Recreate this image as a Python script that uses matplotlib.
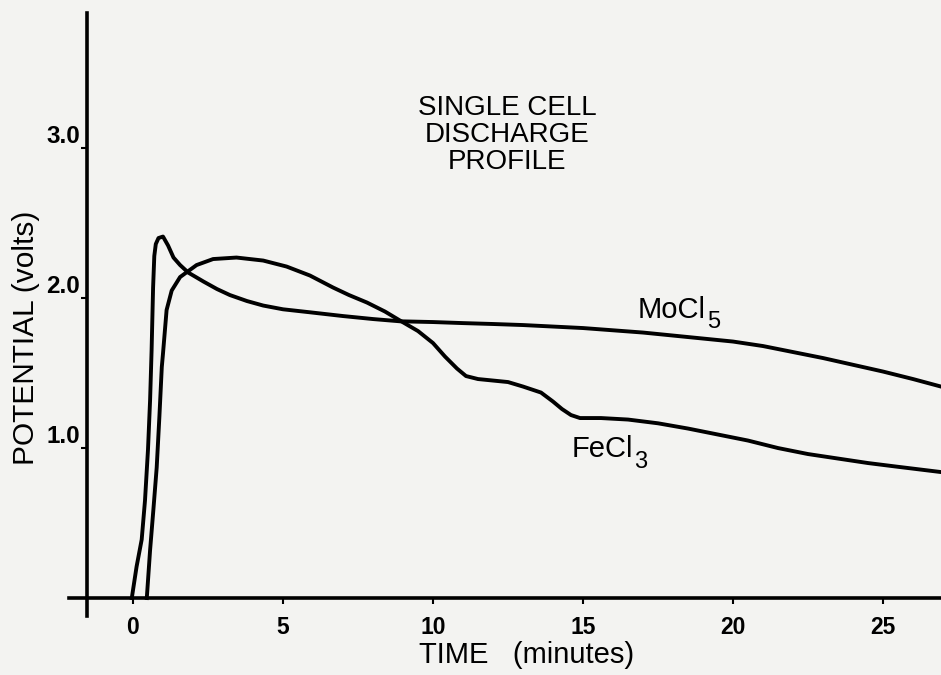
import numpy as np
import matplotlib.pyplot as plt

# values (time in minutes, potential in volts)
mocl5_t = [-0.04, 0.12, 0.29, 0.4, 0.5, 0.57, 0.62, 0.67, 0.71, 0.76, 0.85, 1.0, 1.17, 1.35,
           1.57, 1.84, 2.35, 2.8, 3.23, 3.8, 4.34, 5.0, 5.9, 7.0, 8.0, 8.9, 10.0, 11.0, 12.0,
           13.0, 14.0, 15.0, 16.0, 17.0, 18.0, 19.0, 20.0, 21.0, 22.0, 23.0, 24.0, 25.0,
           26.0, 26.93]
mocl5_v = [0.0, 0.21, 0.39, 0.65, 0.99, 1.32, 1.65, 2.07, 2.28, 2.36, 2.4, 2.41, 2.35, 2.27,
           2.22, 2.17, 2.11, 2.06, 2.02, 1.98, 1.95, 1.925, 1.905, 1.88, 1.86, 1.845, 1.84,
           1.833, 1.827, 1.82, 1.81, 1.8, 1.785, 1.77, 1.75, 1.73, 1.71, 1.68, 1.64, 1.6,
           1.555, 1.51, 1.46, 1.41]

fecl3_t = [0.46, 0.57, 0.68, 0.79, 0.88, 0.96, 1.0, 1.12, 1.29, 1.57, 2.12, 2.67, 3.45,
           4.34, 5.12, 5.9, 6.67, 7.2, 7.8, 8.4, 8.9, 9.5, 10.0, 10.4, 10.8, 11.1, 11.5, 12.0,
           12.5, 13.0, 13.6, 14.0, 14.3, 14.6, 14.9, 15.6, 16.5, 17.5, 18.5, 19.5, 20.5, 21.5,
           22.5, 23.5, 24.5, 25.5, 26.93]
fecl3_v = [0.0, 0.32, 0.59, 0.87, 1.21, 1.54, 1.63, 1.92, 2.05, 2.14, 2.22, 2.26, 2.27,
           2.25, 2.21, 2.15, 2.07, 2.02, 1.97, 1.91, 1.85, 1.78, 1.7, 1.61, 1.53, 1.48, 1.46,
           1.45, 1.44, 1.41, 1.37, 1.31, 1.26, 1.22, 1.2, 1.2, 1.19, 1.165, 1.13, 1.09, 1.05,
           1.0, 0.96, 0.93, 0.9, 0.875, 0.84]

x_ticks = [0, 5, 10, 15, 20, 25]
y_ticks = [1.0, 2.0, 3.0]

bg = '#f3f3f1'
plt.rcParams['font.family'] = ['Liberation Sans', 'DejaVu Sans']

fig = plt.figure(figsize=(9.41, 6.75), dpi=100, facecolor=bg)
ax = fig.add_axes([0, 0, 1, 1])
ax.set_facecolor(bg)
ax.set_xlim(-4.433, 26.933)
ax.set_ylim(-0.513, 3.987)

ax.plot(mocl5_t, mocl5_v, color='black', lw=2.8, solid_joinstyle='round')
ax.plot(fecl3_t, fecl3_v, color='black', lw=2.8, solid_joinstyle='round')

# axes drawn like the hand-made original
for s in ['top', 'right']:
    ax.spines[s].set_visible(False)
ax.spines['left'].set_position(('data', -1.53))
ax.spines['left'].set_bounds(-0.12, 3.9)
ax.spines['bottom'].set_position(('data', 0))
ax.spines['bottom'].set_bounds(-2.13, 26.93)
for s in ['left', 'bottom']:
    ax.spines[s].set_linewidth(2.6)

ax.set_xticks(x_ticks)
ax.set_xticklabels([str(t) for t in x_ticks], fontsize=16.5, fontweight='bold')
ax.set_yticks(y_ticks)
ax.set_yticklabels([f'{v:.1f}' for v in y_ticks], fontsize=17.5, fontweight='bold')
for lab in ax.get_yticklabels():
    lab.set_va('bottom')
ax.tick_params(axis='x', direction='out', length=4, width=1.5, pad=9)
ax.tick_params(axis='y', direction='out', length=4, width=1.5, pad=1)

fig.text(507 / 941, 1 - 135 / 675, 'SINGLE CELL\nDISCHARGE\nPROFILE', ha='center',
         va='center', fontsize=20, linespacing=1.03, multialignment='center')

# compound labels with large subscripts
mo = fig.text(638 / 941, 1 - 318 / 675, 'MoCl', fontsize=21, va='baseline')
ax.annotate('5', xy=(1, 675 - 328), xycoords=(mo, 'figure pixels'), xytext=(1, 0),
            textcoords='offset pixels', fontsize=17, va='baseline')
fe = fig.text(572 / 941, 1 - 457 / 675, 'FeCl', fontsize=21, va='baseline')
ax.annotate('3', xy=(1, 675 - 468), xycoords=(fe, 'figure pixels'), xytext=(1, 0),
            textcoords='offset pixels', fontsize=17, va='baseline')

fig.text(26 / 941, 1 - 338 / 675, 'POTENTIAL (volts)', rotation=90, ha='center',
         va='center', fontsize=21.5)
fig.text(527 / 941, 1 - 663 / 675, 'TIME   (minutes)', ha='center', va='baseline',
         fontsize=21)

fig.savefig('out.png', dpi=100, facecolor=bg)
